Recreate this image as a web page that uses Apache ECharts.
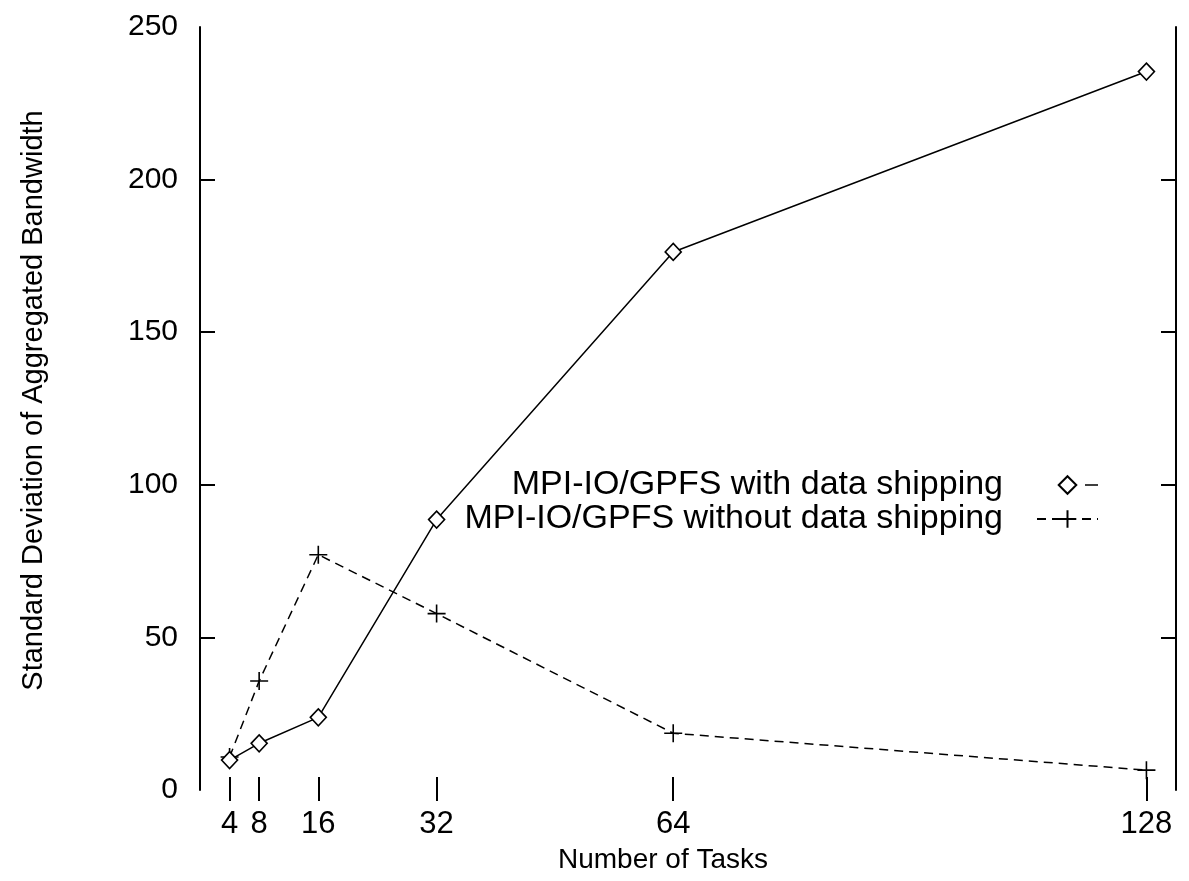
<!DOCTYPE html>
<html>
<head>
<meta charset="utf-8">
<title>Standard Deviation of Aggregated Bandwidth</title>
<script src="https://cdn.jsdelivr.net/npm/echarts@6/dist/echarts.min.js"></script>
<style>
  html, body { margin: 0; padding: 0; background: #fff; }
  #chart { width: 1189px; height: 881px; }
</style>
</head>
<body>
<div id="chart"></div>
<script>
// Number of tasks (x) and the standard deviation measured for each variant
const tasks = [4, 8, 16, 32, 64, 128];
const withShipping = [9.8, 15.3, 23.8, 88.6, 176.3, 235.4];
const withoutShipping = [10.8, 35.7, 77.1, 57.8, 18.6, 6.5];

// Tick positions / labels
const xTickValues = [4, 8, 16, 32, 64, 128];
const yInnerTicks = [50, 100, 150, 200];

const seriesNames = [
  'MPI-IO/GPFS with data shipping',
  'MPI-IO/GPFS without data shipping'
];

const FONT = '"Liberation Sans", Arial, Helvetica, sans-serif';
const INK = '#000';

const pairs = (ys) => tasks.map((t, i) => [t, ys[i]]);

const chart = echarts.init(document.getElementById('chart'), null, { renderer: 'canvas' });

const xCommon = {
  type: 'value',
  min: 0,
  max: 132,
  splitLine: { show: false },
  axisLine: { show: false },
  axisTick: {
    show: true,
    inside: true,
    customValues: xTickValues,
    lineStyle: { color: INK, width: 2 }
  }
};

const yCommon = {
  type: 'value',
  min: 0,
  max: 250,
  interval: 50,
  splitLine: { show: false },
  axisLine: { show: true, onZero: false, lineStyle: { color: INK, width: 2 } },
  axisTick: {
    show: true,
    inside: true,
    length: 15,
    customValues: yInnerTicks,
    lineStyle: { color: INK, width: 2 }
  }
};

chart.setOption({
  animation: false,
  backgroundColor: '#fff',
  textStyle: { fontFamily: FONT, color: INK },
  grid: { left: 200, right: 13, top: 27, bottom: 91, containLabel: false },
  xAxis: [
    Object.assign({}, xCommon, {
      position: 'bottom',
      name: 'Number of Tasks',
      nameLocation: 'middle',
      nameGap: 56,
      nameTextStyle: { fontFamily: FONT, fontSize: 28, color: INK, padding: [0, 50, 0, 0] },
      axisTick: Object.assign({}, xCommon.axisTick, { length: 13 }),
      axisLabel: {
        show: true,
        customValues: xTickValues,
        margin: 19,
        fontFamily: FONT,
        fontSize: 31,
        color: INK
      }
    }),
    Object.assign({}, xCommon, {
      position: 'top',
      axisTick: Object.assign({}, xCommon.axisTick, { length: 11 }),
      axisLabel: { show: false }
    })
  ],
  yAxis: [
    Object.assign({}, yCommon, {
      position: 'left',
      name: 'Standard Deviation of Aggregated Bandwidth',
      nameLocation: 'middle',
      nameGap: 152,
      nameTextStyle: { fontFamily: FONT, fontSize: 29, color: INK, padding: [0, 0, 0, 16] },
      axisLabel: {
        show: true,
        margin: 22,
        fontFamily: FONT,
        fontSize: 30,
        color: INK
      }
    }),
    Object.assign({}, yCommon, {
      position: 'right',
      axisLabel: { show: false }
    })
  ],
  legend: {
    orient: 'vertical',
    align: 'right',
    right: 90,
    top: 468,
    padding: 0,
    itemWidth: 61,
    itemHeight: 22,
    itemGap: 0,
    selectedMode: false,
    textStyle: {
      fontFamily: FONT,
      fontSize: 34,
      lineHeight: 33,
      color: INK,
      padding: [0, 29, 0, 0]
    },
    data: [
      {
        name: seriesNames[0],
        lineStyle: { type: [0, 48, 13, 100], width: 1.5, color: INK }
      },
      {
        name: seriesNames[1]
      }
    ]
  },
  series: [
    {
      name: seriesNames[1],
      type: 'line',
      xAxisIndex: 0,
      yAxisIndex: 0,
      data: pairs(withoutShipping),
      symbol: 'path://M0,10L20,10M10,0L10,20',
      symbolSize: 18,
      showAllSymbol: true,
      lineStyle: { color: INK, width: 1.5, type: [9, 6] },
      itemStyle: { color: INK, borderColor: INK, borderWidth: 1.6 },
      z: 2
    },
    {
      name: seriesNames[0],
      type: 'line',
      xAxisIndex: 0,
      yAxisIndex: 0,
      data: pairs(withShipping),
      symbol: 'diamond',
      symbolSize: [16, 17],
      showAllSymbol: true,
      lineStyle: { color: INK, width: 1.5, type: 'solid' },
      itemStyle: { color: '#fff', borderColor: INK, borderWidth: 1.6 },
      z: 3
    }
  ]
});
</script>
</body>
</html>
